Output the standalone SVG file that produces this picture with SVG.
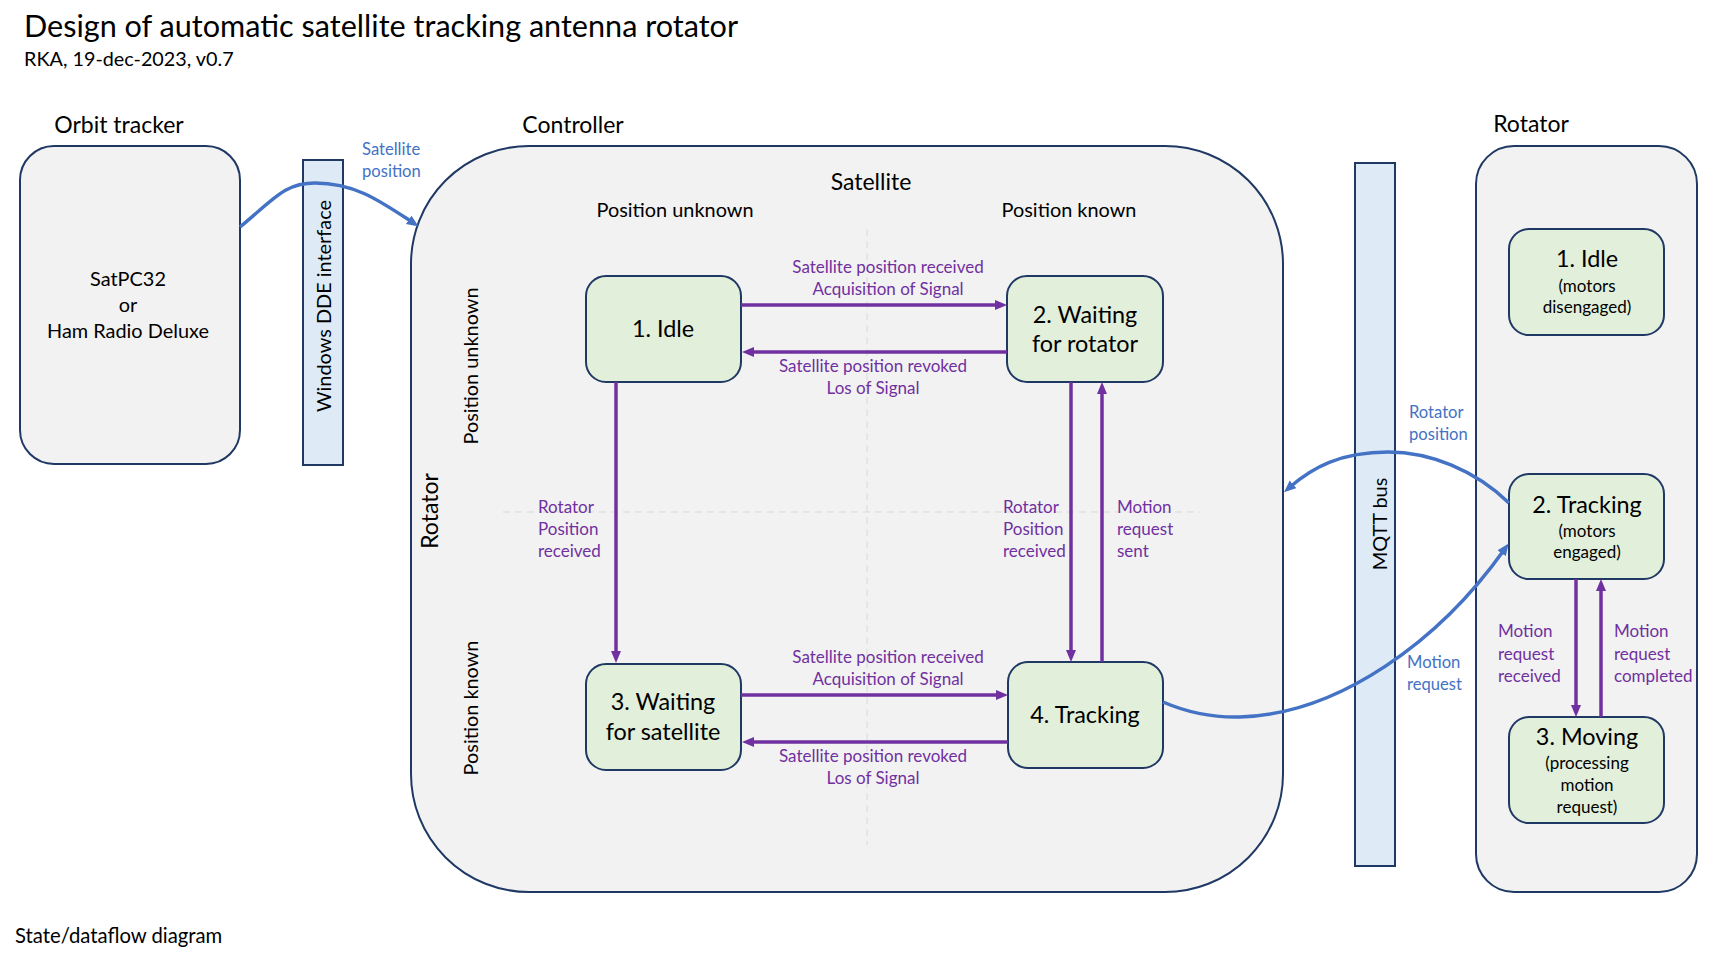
<svg xmlns="http://www.w3.org/2000/svg" width="1722" height="955" viewBox="0 0 1722 955">
<style>
text{font-family:Lato,"Liberation Sans",sans-serif;fill:#000}
.title{font-size:30.6px}
.sub{font-size:19.8px}
.head{font-size:23px}
.h2{font-size:19.9px}
.node{font-size:23.4px}
.small{font-size:17px}
.lbl{font-size:17px;fill:#7030A0}
.blbl{font-size:16.6px;fill:#4472C4}
.mid{text-anchor:middle}
.panel{fill:#F2F2F2;stroke:#1F3864;stroke-width:2}
.bar{fill:#DEEBF7;stroke:#1F3864;stroke-width:2}
.state{fill:#E2EFDA;stroke:#1F3864;stroke-width:2}
.grid{stroke:#D9D9D9;stroke-width:1;stroke-dasharray:7 5;fill:none}
.pa{stroke:#7030A0;stroke-width:3.5;fill:none;marker-end:url(#ap)}
.ba{stroke:#4472C4;stroke-width:3.5;fill:none;marker-end:url(#ab)}
</style>
<defs>
<marker id="ap" markerUnits="userSpaceOnUse" markerWidth="14" markerHeight="12" refX="4" refY="5" orient="auto"><path d="M0,0 L12,5 L0,10 z" fill="#7030A0"/></marker>
<marker id="ab" markerUnits="userSpaceOnUse" markerWidth="14" markerHeight="12" refX="4" refY="5" orient="auto"><path d="M0,0 L12,5 L0,10 z" fill="#4472C4"/></marker>
</defs>
<rect width="1722" height="955" fill="#fff"/>
<text class="title" x="24" y="37">Design of automatic satellite tracking antenna rotator</text>
<text class="sub" x="24" y="66">RKA, 19-dec-2023, v0.7</text>
<text class="sub" x="15" y="943" style="font-size:20.3px">State/dataflow diagram</text>

<g id="orbit-tracker">
<text class="head mid" x="119" y="133">Orbit tracker</text>
<rect class="panel" x="20" y="146" width="220" height="318" rx="34"/>
<text class="h2 mid" x="128" y="286">SatPC32</text>
<text class="h2 mid" x="128" y="312">or</text>
<text class="h2 mid" x="128" y="338">Ham Radio Deluxe</text>
</g>

<g id="dde-interface">
<rect class="bar" x="303" y="160" width="40" height="305"/>
<text class="h2 mid" transform="translate(331,306) rotate(-90)">Windows DDE interface</text>
</g>

<g id="controller">
<text class="head mid" x="573" y="133">Controller</text>
<rect class="panel" x="411" y="146" width="872" height="746" rx="118"/>
<text class="head mid" x="871" y="190">Satellite</text>
<text class="h2 mid" x="675" y="217">Position unknown</text>
<text class="h2 mid" x="1069" y="217">Position known</text>
<text class="head mid" transform="translate(438,511) rotate(-90)">Rotator</text>
<text class="h2 mid" transform="translate(478,366) rotate(-90)">Position unknown</text>
<text class="h2 mid" transform="translate(478,708) rotate(-90)">Position known</text>
<line class="grid" x1="867" y1="229" x2="867" y2="845"/>
<line class="grid" x1="503" y1="512" x2="1200" y2="512"/>
</g>

<g id="c-idle">
<rect class="state" x="586" y="276" width="155" height="106" rx="20"/>
<text class="node mid" x="663" y="337">1. Idle</text>
</g>
<g id="c-waiting-rotator">
<rect class="state" x="1007" y="276" width="156" height="106" rx="20"/>
<text class="node mid" x="1085" y="323">2. Waiting</text>
<text class="node mid" x="1085" y="352">for rotator</text>
</g>
<g id="c-waiting-satellite">
<rect class="state" x="586" y="664" width="155" height="106" rx="20"/>
<text class="node mid" x="663" y="710">3. Waiting</text>
<text class="node mid" x="663" y="740">for satellite</text>
</g>
<g id="c-tracking">
<rect class="state" x="1008" y="662" width="155" height="106" rx="20"/>
<text class="node mid" x="1085" y="723">4. Tracking</text>
</g>

<g id="mqtt-bus">
<rect class="bar" x="1355" y="163" width="40" height="703"/>
<text class="h2 mid" transform="translate(1387,524) rotate(-90)">MQTT bus</text>
</g>

<g id="rotator">
<text class="head mid" x="1531" y="132">Rotator</text>
<rect class="panel" x="1476" y="146" width="221" height="746" rx="38"/>
</g>
<g id="r-idle">
<rect class="state" x="1509" y="229" width="155" height="106" rx="20"/>
<text class="node mid" x="1587" y="267">1. Idle</text>
<text class="small mid" x="1587" y="292">(motors</text>
<text class="small mid" x="1587" y="313">disengaged)</text>
</g>
<g id="r-tracking">
<rect class="state" x="1509" y="474" width="155" height="105" rx="20"/>
<text class="node mid" x="1587" y="513">2. Tracking</text>
<text class="small mid" x="1587" y="537">(motors</text>
<text class="small mid" x="1587" y="558">engaged)</text>
</g>
<g id="r-moving">
<rect class="state" x="1509" y="717" width="155" height="106" rx="20"/>
<text class="node mid" x="1587" y="745">3. Moving</text>
<text class="small mid" x="1587" y="769">(processing</text>
<text class="small mid" x="1587" y="791">motion</text>
<text class="small mid" x="1587" y="813">request)</text>
</g>

<g id="connectors">
<path class="ba" d="M240,227 C275,198 285,183 315,183 C355,183 380,201 412,222"/>
<text class="blbl" x="362" y="155">Satellite</text>
<text class="blbl" x="362" y="177">position</text>

<line class="pa" x1="741" y1="305" x2="999" y2="305"/>
<line class="pa" x1="1007" y1="352" x2="750" y2="352"/>
<line class="pa" x1="616" y1="382" x2="616" y2="655"/>
<line class="pa" x1="1071" y1="382" x2="1071" y2="654"/>
<line class="pa" x1="1102" y1="662" x2="1102" y2="390"/>
<line class="pa" x1="741" y1="695" x2="1000" y2="695"/>
<line class="pa" x1="1008" y1="742" x2="750" y2="742"/>
<line class="pa" x1="1576" y1="579" x2="1576" y2="709"/>
<line class="pa" x1="1601" y1="717" x2="1601" y2="587"/>

<text class="lbl mid" x="888" y="273">Satellite position received</text>
<text class="lbl mid" x="888" y="295">Acquisition of Signal</text>
<text class="lbl mid" x="873" y="372">Satellite position revoked</text>
<text class="lbl mid" x="873" y="394">Los of Signal</text>
<text class="lbl mid" x="888" y="663">Satellite position received</text>
<text class="lbl mid" x="888" y="685">Acquisition of Signal</text>
<text class="lbl mid" x="873" y="762">Satellite position revoked</text>
<text class="lbl mid" x="873" y="784">Los of Signal</text>
<text class="lbl" x="538" y="513">Rotator</text>
<text class="lbl" x="538" y="535">Position</text>
<text class="lbl" x="538" y="557">received</text>
<text class="lbl" x="1003" y="513">Rotator</text>
<text class="lbl" x="1003" y="535">Position</text>
<text class="lbl" x="1003" y="557">received</text>
<text class="lbl" x="1117" y="513">Motion</text>
<text class="lbl" x="1117" y="535">request</text>
<text class="lbl" x="1117" y="557">sent</text>
<text class="lbl" x="1498" y="637">Motion</text>
<text class="lbl" x="1498" y="660">request</text>
<text class="lbl" x="1498" y="682">received</text>
<text class="lbl" x="1614" y="637">Motion</text>
<text class="lbl" x="1614" y="660">request</text>
<text class="lbl" x="1614" y="682">completed</text>

<path class="ba" d="M1509,503 C1475,470 1430,452 1388,452 C1340,452 1312,468 1290,487"/>
<text class="blbl" x="1409" y="418">Rotator</text>
<text class="blbl" x="1409" y="440">position</text>
<path class="ba" d="M1163,702 Q1200,718 1240,717 C1340,714 1440,640 1504,550"/>
<text class="blbl" x="1407" y="668">Motion</text>
<text class="blbl" x="1407" y="690">request</text>
</g>
</svg>
